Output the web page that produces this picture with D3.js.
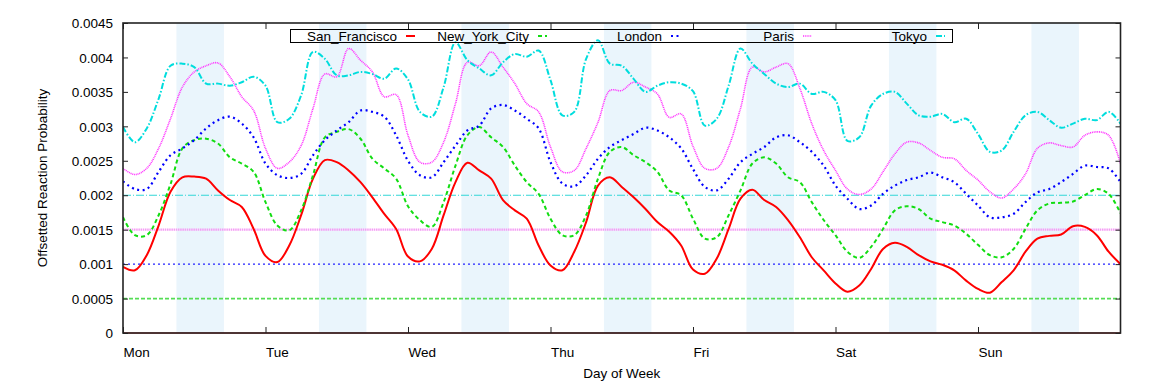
<!DOCTYPE html>
<html><head><meta charset="utf-8">
<script src="https://cdn.jsdelivr.net/npm/d3@7"></script>
<style>
body{margin:0;background:#fff}
svg{display:block}
text{font-family:"Liberation Sans",Arial,Helvetica,sans-serif;font-size:13.5px;fill:#000}
</style>
</head><body>
<svg id="chart" width="1155" height="383"></svg>
<script>
// ---------- data ----------
const days = ["Mon","Tue","Wed","Thu","Fri","Sat","Sun"];
const dayStartHours = [0,24,48,72,96,120,144];
const yTickValues = [0,0.0005,0.001,0.0015,0.002,0.0025,0.003,0.0035,0.004,0.0045];
const yTickLabels = ["0","0.0005","0.001","0.0015","0.002","0.0025","0.003","0.0035","0.004","0.0045"];
const cities = ["San_Francisco","New_York_City","London","Paris","Tokyo"];
const offsets = [0,0.0005,0.001,0.0015,0.002];
// office hours shading: start/end hour of week
const bandStarts = [9,33,57,81,105,129,153];
const bandEnds = [17,41,65,89,113,137,161];
// sample hours (every 2 hours across the week)
const hours = [0,2,4,6,8,10,12,14,16,18,20,22,24,26,28,30,32,34,36,38,40,42,44,46,48,
  50,52,54,56,58,60,62,64,66,68,70,72,74,76,78,80,82,84,86,88,90,92,94,96,
  98,100,102,104,106,108,110,112,114,116,118,120,122,124,126,128,130,132,134,136,138,140,142,144,
  146,148,150,152,154,156,158,160,162,164,166,168];

const sanFrancisco = [0.96e-3,0.91e-3,1.13e-3,1.56e-3,2.05e-3,2.26e-3,2.27e-3,2.24e-3,2.07e-3,1.93e-3,1.83e-3,1.51e-3,1.12e-3,1.03e-3,1.27e-3,1.71e-3,2.24e-3,2.51e-3,2.48e-3,2.36e-3,2.19e-3,1.97e-3,1.73e-3,1.51e-3,1.11e-3,
  1.04e-3,1.22e-3,1.71e-3,2.19e-3,2.47e-3,2.36e-3,2.24e-3,1.93e-3,1.78e-3,1.66e-3,1.27e-3,0.98e-3,0.91e-3,1.18e-3,1.61e-3,2.14e-3,2.26e-3,2.12e-3,1.97e-3,1.80e-3,1.61e-3,1.47e-3,1.27e-3,0.92e-3,
  0.86e-3,1.08e-3,1.51e-3,1.95e-3,2.08e-3,1.93e-3,1.83e-3,1.64e-3,1.39e-3,1.10e-3,0.91e-3,0.72e-3,0.60e-3,0.69e-3,0.93e-3,1.22e-3,1.31e-3,1.25e-3,1.13e-3,1.04e-3,0.99e-3,0.91e-3,0.76e-3,0.64e-3,
  0.585e-3,0.74e-3,0.91e-3,1.18e-3,1.37e-3,1.41e-3,1.43e-3,1.55e-3,1.54e-3,1.42e-3,1.18e-3,1.00e-3];
const newYorkCity = [1.68e-3,1.42e-3,1.42e-3,1.71e-3,2.16e-3,2.68e-3,2.80e-3,2.82e-3,2.75e-3,2.55e-3,2.46e-3,2.34e-3,1.90e-3,1.56e-3,1.49e-3,1.78e-3,2.29e-3,2.84e-3,2.92e-3,2.96e-3,2.82e-3,2.53e-3,2.39e-3,2.24e-3,1.84e-3,
  1.64e-3,1.54e-3,1.90e-3,2.43e-3,2.87e-3,2.99e-3,2.84e-3,2.70e-3,2.43e-3,2.19e-3,2.02e-3,1.66e-3,1.42e-3,1.42e-3,1.71e-3,2.24e-3,2.63e-3,2.70e-3,2.58e-3,2.48e-3,2.34e-3,2.07e-3,2.00e-3,1.66e-3,
  1.37e-3,1.39e-3,1.71e-3,2.07e-3,2.46e-3,2.55e-3,2.46e-3,2.26e-3,2.19e-3,1.90e-3,1.64e-3,1.42e-3,1.18e-3,1.09e-3,1.25e-3,1.51e-3,1.78e-3,1.84e-3,1.80e-3,1.66e-3,1.61e-3,1.56e-3,1.44e-3,1.28e-3,
  1.13e-3,1.10e-3,1.22e-3,1.51e-3,1.78e-3,1.88e-3,1.89e-3,1.91e-3,2.00e-3,2.09e-3,2.02e-3,1.74e-3];
const london = [2.20e-3,2.09e-3,2.09e-3,2.34e-3,2.58e-3,2.68e-3,2.80e-3,2.97e-3,3.09e-3,3.14e-3,3.04e-3,2.84e-3,2.46e-3,2.29e-3,2.25e-3,2.31e-3,2.58e-3,2.80e-3,2.94e-3,3.06e-3,3.23e-3,3.21e-3,3.14e-3,2.87e-3,2.50e-3,
  2.29e-3,2.26e-3,2.48e-3,2.72e-3,2.94e-3,3.01e-3,3.26e-3,3.31e-3,3.23e-3,3.11e-3,2.97e-3,2.48e-3,2.17e-3,2.13e-3,2.29e-3,2.53e-3,2.70e-3,2.80e-3,2.89e-3,2.98e-3,2.94e-3,2.84e-3,2.68e-3,2.38e-3,
  2.12e-3,2.07e-3,2.24e-3,2.48e-3,2.60e-3,2.70e-3,2.84e-3,2.87e-3,2.77e-3,2.63e-3,2.43e-3,2.14e-3,1.95e-3,1.80e-3,1.85e-3,2.02e-3,2.14e-3,2.22e-3,2.26e-3,2.33e-3,2.26e-3,2.19e-3,2.02e-3,1.85e-3,
  1.68e-3,1.68e-3,1.73e-3,1.90e-3,2.04e-3,2.09e-3,2.19e-3,2.31e-3,2.43e-3,2.41e-3,2.39e-3,2.19e-3];
const paris = [2.39e-3,2.30e-3,2.39e-3,2.68e-3,3.11e-3,3.57e-3,3.79e-3,3.88e-3,3.92e-3,3.72e-3,3.43e-3,3.23e-3,2.68e-3,2.39e-3,2.48e-3,2.72e-3,3.26e-3,3.76e-3,3.72e-3,4.13e-3,3.96e-3,3.79e-3,3.43e-3,3.46e-3,2.87e-3,
  2.48e-3,2.48e-3,2.77e-3,3.33e-3,3.93e-3,3.88e-3,4.08e-3,3.86e-3,3.62e-3,3.33e-3,3.21e-3,2.70e-3,2.34e-3,2.36e-3,2.68e-3,3.06e-3,3.52e-3,3.52e-3,3.64e-3,3.57e-3,3.47e-3,3.13e-3,3.18e-3,2.71e-3,
  2.39e-3,2.39e-3,2.70e-3,3.26e-3,3.86e-3,3.79e-3,3.86e-3,3.91e-3,3.55e-3,3.04e-3,2.65e-3,2.36e-3,2.09e-3,2.01e-3,2.09e-3,2.34e-3,2.60e-3,2.77e-3,2.76e-3,2.65e-3,2.55e-3,2.53e-3,2.36e-3,2.22e-3,
  2.05e-3,1.96e-3,2.09e-3,2.31e-3,2.68e-3,2.76e-3,2.72e-3,2.70e-3,2.87e-3,2.92e-3,2.87e-3,2.46e-3];
const tokyo = [2.99e-3,2.77e-3,2.97e-3,3.40e-3,3.88e-3,3.91e-3,3.86e-3,3.62e-3,3.62e-3,3.59e-3,3.64e-3,3.72e-3,3.59e-3,3.06e-3,3.11e-3,3.45e-3,4.08e-3,3.98e-3,3.74e-3,3.74e-3,3.79e-3,3.76e-3,3.69e-3,3.84e-3,3.68e-3,
  3.21e-3,3.14e-3,3.57e-3,4.22e-3,3.96e-3,3.84e-3,3.74e-3,3.93e-3,4.05e-3,4.01e-3,4.10e-3,3.67e-3,3.16e-3,3.21e-3,3.98e-3,4.25e-3,3.91e-3,3.88e-3,3.69e-3,3.50e-3,3.59e-3,3.64e-3,3.62e-3,3.51e-3,
  3.01e-3,3.11e-3,3.59e-3,4.13e-3,3.91e-3,3.76e-3,3.62e-3,3.57e-3,3.62e-3,3.47e-3,3.50e-3,3.38e-3,2.79e-3,2.84e-3,3.30e-3,3.47e-3,3.50e-3,3.33e-3,3.16e-3,3.14e-3,3.18e-3,3.06e-3,3.11e-3,2.89e-3,
  2.63e-3,2.65e-3,2.92e-3,3.16e-3,3.21e-3,3.09e-3,2.98e-3,3.04e-3,3.11e-3,3.09e-3,3.21e-3,3.04e-3];

const seriesValues = [sanFrancisco, newYorkCity, london, paris, tokyo];

// ---------- styles ----------
const styles = [
  {color:"#ff0000", width:2,   dash:null},
  {color:"#11dd11", width:2,   dash:"4,3"},
  {color:"#0000ff", width:2.2, dash:"2,3.5"},
  {color:"#ff33ff", width:1.6, dash:"1,0.8"},
  {color:"#00dddd", width:2,   dash:"6,2,1.5,2"}
];
const refStyles = [
  {color:"#ff0000", width:1,   dash:null},
  {color:"#55dd55", width:1.8, dash:"4,2"},
  {color:"#2222ff", width:1.2, dash:"2,3"},
  {color:"#f49cf4", width:2.2, dash:"1.5,0.7"},
  {color:"#33d6d6", width:1.1, dash:"8,2,1,2"}
];

// ---------- layout ----------
const svg = d3.select("#chart");
const L = 123, R = 1120.5, T = 23, B = 333;
const x = d3.scaleLinear().domain([0,168]).range([L,R]);
const y = d3.scaleLinear().domain([0,0.0045]).range([B,T]);

svg.append("defs").append("clipPath").attr("id","clip")
  .append("rect").attr("x",L).attr("y",T).attr("width",R-L).attr("height",B-T);

// bands
svg.append("g").selectAll("rect").data(bandStarts).join("rect")
  .attr("x", (d)=>x(d)).attr("y", T)
  .attr("width", (d,i)=>x(bandEnds[i])-x(d)).attr("height", B-T)
  .attr("fill","#eaf5fc");

// reference lines (offsets)
svg.append("g").selectAll("line").data(offsets).join("line")
  .attr("x1", L).attr("x2", R)
  .attr("y1", d=>y(d)).attr("y2", d=>y(d))
  .attr("stroke", (d,i)=>refStyles[i].color)
  .attr("stroke-width", (d,i)=>refStyles[i].width)
  .attr("stroke-dasharray", (d,i)=>refStyles[i].dash);

// series
const line = d3.line().x((d,i)=>x(hours[i])).y(d=>y(d)).curve(d3.curveCatmullRom.alpha(0.5));
const gs = svg.append("g").attr("clip-path","url(#clip)");
seriesValues.forEach((vals,i)=>{
  gs.append("path").attr("d", line(vals))
    .attr("fill","none")
    .attr("stroke", styles[i].color)
    .attr("stroke-width", styles[i].width)
    .attr("stroke-dasharray", styles[i].dash)
    .attr("stroke-linejoin","round");
});

// axes
const axL = svg.append("g").attr("transform",`translate(${L},0)`)
  .call(d3.axisLeft(y).tickValues(yTickValues).tickFormat((d,i)=>yTickLabels[i]).tickSize(-5).tickPadding(10));
const axR = svg.append("g").attr("transform",`translate(${R},0)`)
  .call(d3.axisRight(y).tickValues(yTickValues).tickFormat("").tickSize(-5));
const axB = svg.append("g").attr("transform",`translate(0,${B})`)
  .call(d3.axisBottom(x).tickValues(dayStartHours).tickFormat((d,i)=>days[i]).tickSize(-6));
const axT = svg.append("g").attr("transform",`translate(0,${T})`)
  .call(d3.axisTop(x).tickValues(dayStartHours).tickFormat("").tickSize(-6));
[axL,axR,axB,axT].forEach(a=>{
  a.select(".domain").remove();
  a.selectAll("line").attr("stroke","#222").attr("stroke-width",1);
  a.selectAll("text").attr("font-size",null).attr("font-family",null);
});
axB.selectAll("text").attr("text-anchor","start").attr("x",0).attr("y",24).attr("dy",0);
axL.selectAll("text").attr("dy","0.35em");

// frame
svg.append("rect").attr("x",L).attr("y",T).attr("width",R-L).attr("height",B-T)
  .attr("fill","none").attr("stroke","#222").attr("stroke-width",1.6);

// axis titles
svg.append("text").attr("x",(L+R)/2).attr("y",378).attr("text-anchor","middle").text("Day of Week");
svg.append("text").attr("transform",`translate(47,${(T+B)/2}) rotate(-90)`).attr("text-anchor","middle").text("Offsetted Reaction Probability");

// legend
const legendEnds = [397,529,662,794,927];
const lg = svg.append("g");
lg.append("rect").attr("x",290.5).attr("y",29.5).attr("width",662).attr("height",13)
  .attr("fill","none").attr("stroke","#000").attr("stroke-width",1);
cities.forEach((c,i)=>{
  lg.append("text").attr("x",legendEnds[i]).attr("y",40.5).attr("text-anchor","end").text(c);
  lg.append("line").attr("x1",legendEnds[i]+9).attr("x2",legendEnds[i]+18)
    .attr("y1",36).attr("y2",36)
    .attr("stroke",styles[i].color).attr("stroke-width",styles[i].width)
    .attr("stroke-dasharray",styles[i].dash);
});
</script>
</body></html>
